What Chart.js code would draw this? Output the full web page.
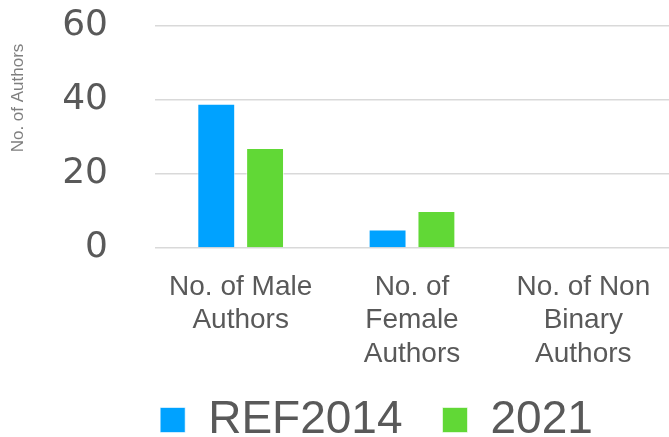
<!DOCTYPE html>
<html>
<head>
<meta charset="utf-8">
<script src="https://cdn.jsdelivr.net/npm/chart.js@4"></script>
<style>
  html, body { margin: 0; padding: 0; background: #ffffff; overflow: hidden; }
  #wrap { position: relative; width: 669px; height: 437px; }
</style>
</head>
<body>
<div id="wrap"><canvas id="authorsChart"></canvas></div>
<script>
// Categories (multi-line labels)
const categories = [
  ["No. of Male", "Authors"],
  ["No. of", "Female", "Authors"],
  ["No. of Non", "Binary", "Authors"]
];
// Series values
const ref2014 = [39, 5, 0];
const y2021 = [27, 10, 0];
// Y axis ticks
const yTicks = [0, 20, 40, 60];
const yTitle = "No. of Authors";

const textGrey = "#595959";

// draw the y axis title a bit above centre, like the original
const yTitlePlugin = {
  id: "yTitlePlugin",
  afterDraw(chart) {
    const ctx = chart.ctx;
    ctx.save();
    ctx.translate(18, chart.chartArea.top + 72);
    ctx.rotate(-Math.PI / 2);
    ctx.font = "17px 'Liberation Sans', Arial, sans-serif";
    ctx.fillStyle = "#7f7f7f";
    ctx.textAlign = "center";
    ctx.textBaseline = "middle";
    ctx.fillText(yTitle, 0, 0);
    ctx.restore();
  }
};

// legend: fixed height, nudged right, and drawn a bit higher
const legendFitPlugin = {
  id: "legendFitPlugin",
  beforeInit(chart) {
    const legend = chart.legend;
    const origFit = legend.fit;
    const origDraw = legend._draw;
    legend.fit = function () {
      origFit.bind(legend)();
      this.height = 69;
      this.lineWidths = this.lineWidths.map((w) => w - 84);
    };
    legend._draw = function () {
      const c = this.ctx;
      c.save();
      c.translate(0, -11);
      origDraw.bind(legend)();
      c.restore();
    };
  }
};

document.addEventListener("DOMContentLoaded", function () {
  const ctx = document.getElementById("authorsChart");
  new Chart(ctx, {
    type: "bar",
    data: {
      labels: categories,
      datasets: [
        {
          label: "REF2014",
          data: ref2014,
          backgroundColor: "#00A2FF",
          borderColor: "rgba(255,255,255,0.6)",
          borderWidth: 1,
          categoryPercentage: 0.57,
          barPercentage: 0.776
        },
        {
          label: "2021",
          data: y2021,
          backgroundColor: "#61D836",
          borderColor: "rgba(255,255,255,0.6)",
          borderWidth: 1,
          categoryPercentage: 0.57,
          barPercentage: 0.776
        }
      ]
    },
    options: {
      responsive: true,
      maintainAspectRatio: false,
      animation: false,
      layout: {
        padding: { top: 0, right: 0, bottom: 0, left: 0 }
      },
      plugins: {
        legend: {
          position: "bottom",
          labels: {
            color: textGrey,
            boxWidth: 25,
            boxHeight: 25,
            padding: 40,
            font: { family: "'Liberation Sans', Arial, sans-serif", size: 46 }
          }
        },
        tooltip: { enabled: false }
      },
      scales: {
        x: {
          grid: { display: false },
          border: { display: false },
          ticks: {
            color: textGrey,
            padding: 14,
            maxRotation: 0,
            autoSkip: false,
            font: { family: "'Liberation Sans', Arial, sans-serif", size: 28, lineHeight: 1.2 }
          },
          afterFit: function (axis) {
            axis.height = 120;
          }
        },
        y: {
          min: 0,
          max: 60,
          afterBuildTicks: function (axis) {
            axis.ticks = yTicks.map((v) => ({ value: v }));
          },
          grid: { color: "#d9d9d9", lineWidth: 1.5, drawTicks: false },
          border: { display: false },
          ticks: {
            color: textGrey,
            padding: 47,
            font: { family: "'DejaVu Sans', sans-serif", size: 36 }
          },
          afterFit: function (axis) {
            axis.width = 155;
            axis.paddingTop = 26;
            axis.paddingBottom = 22;
          }
        }
      }
    },
    plugins: [yTitlePlugin, legendFitPlugin]
  });
});
</script>
</body>
</html>
